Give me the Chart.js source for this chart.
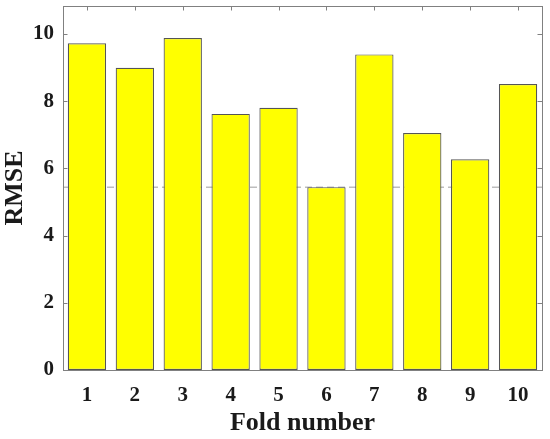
<!DOCTYPE html>
<html>
<head>
<meta charset="utf-8">
<script src="https://cdn.jsdelivr.net/npm/chart.js@4/dist/chart.umd.min.js"></script>
<style>
  html, body { margin: 0; padding: 0; background: #ffffff; }
  #wrap { width: 550px; height: 439px; }
</style>
</head>
<body>
<div id="wrap"><canvas id="c" width="550" height="439"></canvas></div>
<script>
const folds = ['1', '2', '3', '4', '5', '6', '7', '8', '9', '10'];
const rmse = [9.72, 8.99, 9.88, 7.62, 7.80, 5.44, 9.39, 7.05, 6.27, 8.51];
const refLine = [5.44];
const yTicks = [0, 2, 4, 6, 8, 10];
const yMax = 10.83;

const framePlugin = {
  id: 'frame',
  beforeDatasetsDraw(chart) {
    const { ctx, chartArea: a, scales } = chart;
    const y = scales.y.getPixelForValue(refLine[0]);
    ctx.save();
    ctx.strokeStyle = '#bdbdbd';
    ctx.lineWidth = 1.5;
    ctx.setLineDash([7, 4]);
    ctx.beginPath();
    ctx.moveTo(a.left, y);
    ctx.lineTo(a.right, y);
    ctx.stroke();
    ctx.restore();
  },
  afterDraw(chart) {
    const { ctx, chartArea: a, scales } = chart;
    ctx.save();
    ctx.strokeStyle = '#808080';
    ctx.lineWidth = 1;
    ctx.setLineDash([]);
    ctx.strokeRect(Math.round(a.left) + 0.5, Math.round(a.top) + 0.5,
                   Math.round(a.right - a.left), Math.round(a.bottom - a.top));
    const len = 4.5;
    ctx.beginPath();
    scales.y.ticks.forEach((t) => {
      const py = Math.round(scales.y.getPixelForValue(t.value)) + 0.5;
      ctx.moveTo(a.left, py); ctx.lineTo(a.left + len, py);
      ctx.moveTo(a.right, py); ctx.lineTo(a.right - len, py);
    });
    scales.x.ticks.forEach((t, i) => {
      const px = Math.round(scales.x.getPixelForTick(i)) + 0.5;
      ctx.moveTo(px, a.top); ctx.lineTo(px, a.top + len);
    });
    ctx.stroke();
    ctx.restore();
  }
};

Chart.defaults.font.family = "'Liberation Serif', 'Times New Roman', serif";
Chart.defaults.color = '#1a1a1a';

new Chart(document.getElementById('c'), {
  type: 'bar',
  data: {
    labels: folds,
    datasets: [{
      label: 'RMSE',
      data: rmse,
      backgroundColor: '#ffff00',
      borderColor: '#555555',
      borderWidth: 1.2,
      borderSkipped: false,
      barPercentage: 0.8,
      categoryPercentage: 1.0
    }]
  },
  options: {
    responsive: false,
    animation: false,
    devicePixelRatio: 1,
    layout: { padding: { top: 6, right: 8, left: 0, bottom: 0 } },
    plugins: {
      legend: { display: false },
      tooltip: { enabled: false }
    },
    scales: {
      x: {
        offset: true,
        grid: { display: false, drawTicks: false },
        border: { display: false },
        ticks: {
          font: { size: 21, weight: 'bold' },
          color: '#1a1a1a',
          padding: 13,
          maxRotation: 0
        },
        title: {
          display: true,
          text: 'Fold number',
          font: { size: 26, weight: 'bold' },
          color: '#1a1a1a',
          padding: { top: 0, bottom: 0 }
        },
        afterFit(scale) { scale.height = 69; scale.paddingLeft = 0; scale.paddingRight = 0; }
      },
      y: {
        min: 0,
        max: yMax,
        grid: { display: false, drawTicks: false },
        border: { display: false },
        afterBuildTicks(scale) { scale.ticks = yTicks.map(v => ({ value: v })); },
        ticks: {
          font: { size: 21, weight: 'bold' },
          color: '#1a1a1a',
          padding: 9
        },
        title: {
          display: true,
          text: 'RMSE',
          font: { size: 26, weight: 'bold' },
          color: '#1a1a1a',
          padding: { top: 0, bottom: 0 }
        },
        afterFit(scale) { scale.width = 63; scale.paddingTop = 0; scale.paddingBottom = 0; }
      }
    }
  },
  plugins: [framePlugin]
});
</script>
</body>
</html>
